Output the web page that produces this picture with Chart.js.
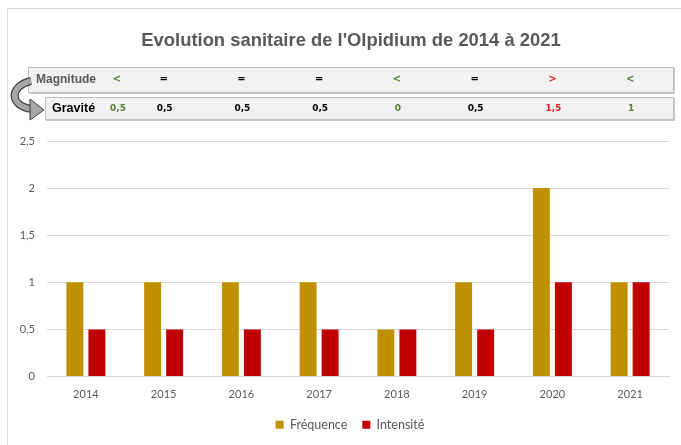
<!DOCTYPE html>
<html>
<head>
<meta charset="utf-8">
<script src="https://cdn.jsdelivr.net/npm/chart.js@4"></script>
<style>
  html, body { margin: 0; padding: 0; background: #fff; }
  #wrap { width: 681px; height: 445px; position: relative; }
</style>
</head>
<body>
<div id="wrap"><canvas id="chart" width="681" height="445"></canvas></div>
<script>
// Chart data
const years = ['2014', '2015', '2016', '2017', '2018', '2019', '2020', '2021'];
const frequence = [1, 1, 1, 1, 0.5, 1, 2, 1];
const intensite = [0.5, 0.5, 0.5, 0.5, 0.5, 0.5, 1, 1];

// Header rows above the plot
const magnitude = ['<', '=', '=', '=', '<', '=', '>', '<'];
const gravite = ['0,5', '0,5', '0,5', '0,5', '0', '0,5', '1,5', '1'];

const chartTitle = "Evolution sanitaire de l'Olpidium de 2014 à 2021";
const tickFont = { family: 'Lato', size: 11 };
const grey = '#595959';

// colour of a header cell depends on the comparison sign
function signColor(sign) {
    if (sign === '<') return '#548235';
    if (sign === '>') return '#e02424';
    return '#000000';
}

// Draws the frame, the title, the Magnitude / Gravité boxes and the curved arrow
const headerPlugin = {
    id: 'header',
    afterLayout(chart) {
        // legend sits a little left of the plot centre in the original
        chart.legend.left -= 8;
        chart.legend.right -= 8;
    },
    beforeDraw(chart) {
        const ctx = chart.ctx;
        ctx.save();

        // outer frame
        ctx.strokeStyle = '#d9d9d9';
        ctx.lineWidth = 1;
        ctx.beginPath();
        ctx.moveTo(7.5, 445);
        ctx.lineTo(7.5, 8.5);
        ctx.lineTo(681, 8.5);
        ctx.stroke();

        // title (placed a bit right of the canvas centre, like the original)
        ctx.fillStyle = grey;
        ctx.font = 'bold 18.4px "Liberation Sans"';
        ctx.textAlign = 'center';
        ctx.textBaseline = 'middle';
        ctx.fillText(chartTitle, 351, 41);

        // boxes with a little shadow
        const boxes = [
            { x: 28, y: 67, w: 645, h: 25 },
            { x: 45, y: 97, w: 628, h: 22 }
        ];
        boxes.forEach(b => {
            ctx.fillStyle = '#c8c8c8';
            ctx.fillRect(b.x + 1, b.y + 1, b.w + 1, b.h + 1);
            ctx.fillStyle = '#f2f2f2';
            ctx.fillRect(b.x, b.y, b.w, b.h);
            ctx.strokeStyle = '#bfbfbf';
            ctx.strokeRect(b.x + 0.5, b.y + 0.5, b.w, b.h);
        });

        // curved arrow
        const curve = () => {
            ctx.beginPath();
            ctx.moveTo(31, 81);
            ctx.bezierCurveTo(9, 86, 9, 106, 32, 109);
        };
        ctx.strokeStyle = '#404040';
        ctx.lineWidth = 8;
        curve();
        ctx.stroke();
        ctx.strokeStyle = '#a6a6a6';
        ctx.lineWidth = 5.5;
        curve();
        ctx.stroke();
        ctx.beginPath();
        ctx.moveTo(30, 99);
        ctx.lineTo(44, 110);
        ctx.lineTo(30, 120);
        ctx.closePath();
        ctx.fillStyle = '#a6a6a6';
        ctx.fill();
        ctx.strokeStyle = '#404040';
        ctx.lineWidth = 1;
        ctx.stroke();

        // row labels
        ctx.textAlign = 'left';
        ctx.font = 'bold 12px "Liberation Sans"';
        ctx.fillStyle = grey;
        ctx.fillText('Magnitude', 36, 80);
        ctx.fillStyle = '#000';
        ctx.font = 'bold 12.5px "Liberation Sans"';
        ctx.fillText('Gravité', 52, 109);

        // cells aligned on the x scale
        const xs = chart.scales.x;
        ctx.textAlign = 'center';
        for (let i = 0; i < years.length; i++) {
            const cx = i === 0 ? 117 : xs.getPixelForValue(i);
            ctx.fillStyle = signColor(magnitude[i]);
            ctx.font = 'bold 10px "DejaVu Sans"';
            ctx.fillText(magnitude[i], cx, 79);
            ctx.font = 'bold 9px "DejaVu Sans"';
            ctx.fillText(gravite[i], cx + 1, 109);
        }
        ctx.restore();
    }
};

const ctx = document.getElementById('chart').getContext('2d');
new Chart(ctx, {
    type: 'bar',
    data: {
        labels: years,
        datasets: [
            {
                label: 'Fréquence',
                data: frequence,
                backgroundColor: '#bf9000'
            },
            {
                label: 'Intensité',
                data: intensite,
                backgroundColor: '#c00000'
            }
        ]
    },
    options: {
        responsive: false,
        animation: false,
        devicePixelRatio: 1,
        categoryPercentage: 0.566,
        barPercentage: 0.77,
        layout: {
            padding: { top: 141, left: 0, right: 12, bottom: 4 }
        },
        plugins: {
            title: { display: false },
            legend: {
                position: 'bottom',
                fullSize: false,
                labels: {
                    boxWidth: 8,
                    boxHeight: 8,
                    padding: 15,
                    color: grey,
                    font: { family: 'Lato', size: 12.5 }
                }
            },
            tooltip: { enabled: false }
        },
        scales: {
            x: {
                afterFit: (scale) => { scale.height = 27; },
                grid: { display: false, drawTicks: false },
                border: { color: '#d9d9d9' },
                ticks: {
                    color: grey,
                    font: tickFont,
                    padding: 11
                }
            },
            y: {
                min: 0,
                max: 2.5,
                afterFit: (scale) => { scale.width = 47; },
                grid: { color: '#d9d9d9', drawTicks: false },
                border: { display: false },
                ticks: {
                    stepSize: 0.5,
                    padding: 12,
                    color: grey,
                    font: tickFont,
                    callback: (v) => String(v).replace('.', ',')
                }
            }
        }
    },
    plugins: [headerPlugin]
});
</script>
</body>
</html>
